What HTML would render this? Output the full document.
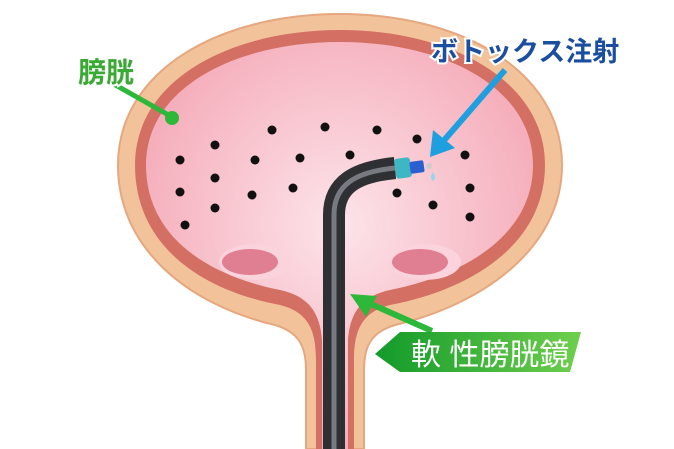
<!DOCTYPE html>
<html><head><meta charset="utf-8"><style>
body{margin:0;background:#fff;width:674px;height:449px;overflow:hidden}
svg{display:block}
</style></head><body>
<svg width="674" height="449" viewBox="0 0 674 449" xmlns="http://www.w3.org/2000/svg">
<defs>
<radialGradient id="pk" cx="0.5" cy="0.45" r="0.6"><stop offset="0" stop-color="#fde4ea"/><stop offset="1" stop-color="#f4a7b5"/></radialGradient>
<linearGradient id="gb" x1="0" x2="1"><stop offset="0" stop-color="#129a2a"/><stop offset="1" stop-color="#6fcf4d"/></linearGradient>
</defs>
<path d="M340 14 C460 14 562 70 562 165 C562 250 480 305 395 325 C372 332 364 345 364 370 L364 449 L306 449 L306 370 C306 345 298 332 275 325 C190 305 118 250 118 165 C118 70 220 14 340 14 Z" fill="#f2c39b" stroke="#e6a77e" stroke-width="2"/>
<path d="M340 30 C450 30 545 80 545 165 C545 245 470 290 390 305 C362 312 354 330 354 360 L354 449 L316 449 L316 360 C316 330 308 312 280 305 C200 290 135 245 135 165 C135 80 230 30 340 30 Z" fill="#d46f64"/>
<path d="M340 42 C445 42 533 88 533 165 C533 235 465 275 390 290 C362 296 350 312 348 340 L348 449 L322 449 L322 340 C320 312 308 296 280 290 C205 275 146 235 146 165 C146 88 235 42 340 42 Z" fill="url(#pk)"/>
<ellipse cx="255" cy="262" rx="36" ry="18" fill="#fbd3dc"/>
<ellipse cx="250" cy="262" rx="28" ry="13" fill="#e07f91"/>
<ellipse cx="425" cy="262" rx="36" ry="18" fill="#fbd3dc"/>
<ellipse cx="420" cy="262" rx="28" ry="13" fill="#e07f91"/>
<g fill="#111">
<circle cx="180" cy="160" r="4.5"/><circle cx="215" cy="145" r="4.5"/><circle cx="255" cy="160" r="4.5"/><circle cx="272" cy="130" r="4.5"/><circle cx="325" cy="127" r="4.5"/><circle cx="377" cy="130" r="4.5"/><circle cx="417" cy="139" r="4.5"/><circle cx="300" cy="158" r="4.5"/><circle cx="350" cy="155" r="4.5"/><circle cx="180" cy="192" r="4.5"/><circle cx="215" cy="178" r="4.5"/><circle cx="252" cy="195" r="4.5"/><circle cx="293" cy="188" r="4.5"/><circle cx="185" cy="225" r="4.5"/><circle cx="215" cy="208" r="4.5"/><circle cx="465" cy="155" r="4.5"/><circle cx="470" cy="188" r="4.5"/><circle cx="397" cy="193" r="4.5"/><circle cx="433" cy="205" r="4.5"/><circle cx="470" cy="217" r="4.5"/>
</g>
<path d="M334 449 L334 215 C334 185 355 172 395 168" fill="none" stroke="#2e3033" stroke-width="22"/>
<path d="M334 449 L334 215 C334 185 355 172 395 168" fill="none" stroke="#777a80" stroke-width="5"/>
<rect x="395" y="158" width="16" height="20" rx="3" fill="#3fb6c4" transform="rotate(-8 403 168)"/>
<rect x="410" y="161" width="14" height="12" rx="2" fill="#2a5fd0" transform="rotate(-8 417 167)"/>
<circle cx="429" cy="166" r="3" fill="#ccc"/>
<path d="M433 172 q4 6 0 9 q-4 -3 0 -9z" fill="#8fd8f5"/>
<line x1="505" y1="70" x2="440" y2="145" stroke="#1e9fe0" stroke-width="6"/>
<polygon points="430,157 433,130 455,148" fill="#1e9fe0"/>
<line x1="112" y1="83" x2="172" y2="117" stroke="#2db83a" stroke-width="5"/>
<circle cx="172" cy="118" r="7" fill="#2db83a"/>
<line x1="432" y1="331" x2="362" y2="300" stroke="#2db83a" stroke-width="6"/>
<polygon points="350,294 377,296 366,317" fill="#2db83a"/>
<polygon points="400,332 581,332 570,372 400,372 375,354" fill="url(#gb)"/>
<text x="411" y="365" font-family="Liberation Sans,'Noto Sans CJK JP',sans-serif" font-size="30" fill="#fff">軟 性膀胱鏡</text>
<text x="78" y="82" font-family="Liberation Sans,'Noto Sans CJK JP',sans-serif" font-size="28" font-weight="bold" fill="#3aaa35" stroke="#fff" stroke-width="4" paint-order="stroke">膀胱</text>
<text x="431" y="61" font-family="Liberation Sans,'Noto Sans CJK JP',sans-serif" font-size="27" font-weight="bold" fill="#1c4ea0" stroke="#fff" stroke-width="4" paint-order="stroke">ボトックス注射</text>
</svg>
</body></html>
